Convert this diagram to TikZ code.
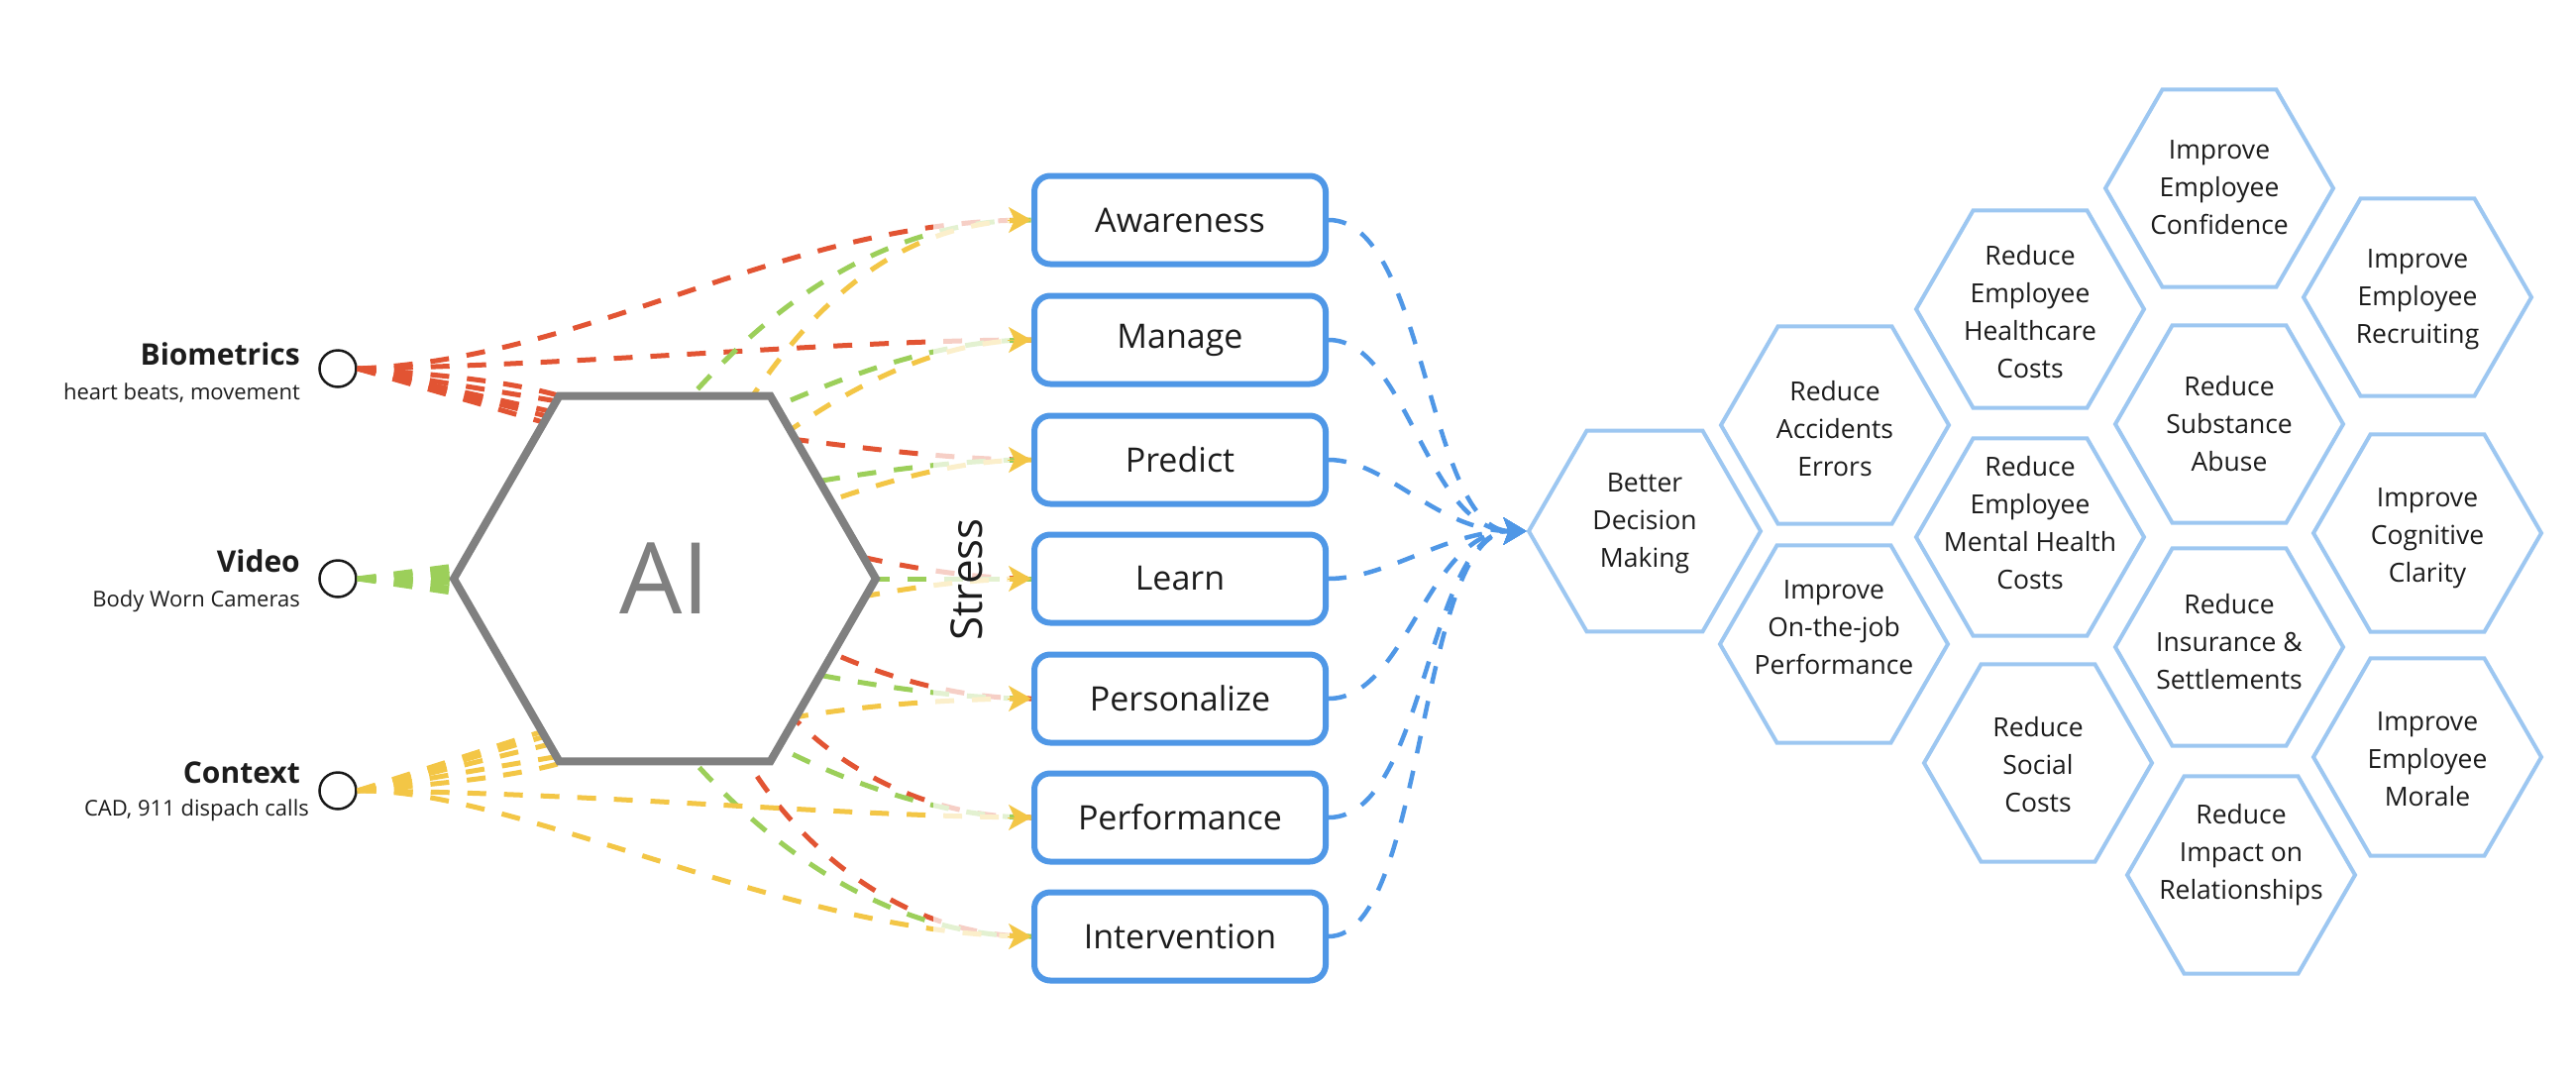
\documentclass[tikz,border=0pt]{standalone}
\usepackage{fontspec}
\setmainfont{Open Sans}
\usetikzlibrary{arrows.meta,shapes.geometric}
\definecolor{cred}{HTML}{E25433}
\definecolor{cgreen}{HTML}{9CCF5A}
\definecolor{cyellow}{HTML}{F3C646}
\definecolor{cblue}{HTML}{4F97E6}
\definecolor{clblue}{HTML}{9DC7F1}
\definecolor{cgray}{HTML}{808080}
\definecolor{ctext}{HTML}{1C1C1C}
\newcommand\fsBox{\fontsize{34}{40}\selectfont}
\newcommand\fsHex{\fontsize{26.5}{38}\selectfont}
\newcommand\fsSrc{\bfseries\fontsize{30}{36}\selectfont}
\newcommand\fsSub{\fontsize{22}{27}\selectfont}
\newcommand\fsAI{\fontsize{100}{110}\selectfont}
\newcommand\fsStress{\fontsize{44}{50}\selectfont}
\begin{document}
\begin{tikzpicture}[x=1pt,y=-1pt,
  src/.style={circle, draw=black!90, line width=2.5pt, minimum size=37pt, inner sep=0pt},
  srclab/.style={anchor=base east, inner sep=0pt, text=ctext, font=\fsSrc},
  sublab/.style={anchor=base east, inner sep=0pt, text=ctext, font=\fsSub},
  box/.style={draw=cblue, line width=6pt, rounded corners=16pt, minimum width=294pt, minimum height=89pt, fill=white, inner sep=0pt, text=ctext, font=\fsBox},
  aihex/.style={regular polygon, regular polygon sides=6, draw=cgray, line width=8pt, minimum size=426pt, inner sep=0pt, fill=white, text=cgray, font=\fsAI},
  hexa/.style={regular polygon, regular polygon sides=6, draw=clblue, line width=4pt, minimum size=230pt, inner sep=0pt, fill=white},
  hextxt/.style={align=center, inner sep=0pt, text=ctext, font=\fsHex},
  cl/.style={line width=5pt, dash pattern=on 19pt off 18pt},
  rl/.style={cl, draw=cred},
  gl/.style={cl, draw=cgreen},
  yl/.style={cl, draw=cyellow},
  ytip/.style={draw=cyellow, fill=cyellow, line width=0.5pt, -{Stealth[length=23pt,width=26pt,inset=6pt]}},
  bconn/.style={draw=cblue, line width=4.5pt, dash pattern=on 18pt off 18pt, -{Stealth[length=23pt,width=27pt,inset=5pt]}}
]
\useasboundingbox (0,0) rectangle (2600,1098);

% sources
\node[src] (bio) at (341,372) {};
\node[src] (vid) at (341,584) {};
\node[src] (ctx) at (341,798) {};
\node[srclab] (biot) at (303,368) {Biometrics};
\node[sublab] (bios) at (303,403) {heart beats, movement};
\node[srclab] (vidt) at (303,577) {Video};
\node[sublab] (vids) at (303,612) {Body Worn Cameras};
\node[srclab] (ctxt) at (303,790) {Context};
\node[sublab] (ctxs) at (312,823) {CAD, 911 dispach calls};

% target box positions
\path (1191,222) coordinate (awc) (1191,343) coordinate (manc) (1191,464) coordinate (predc)
      (1191,584) coordinate (learnc) (1191,705) coordinate (persc) (1191,825) coordinate (perfc)
      (1191,945) coordinate (intc);
\node[box, draw=none, fill=none] (aw) at (awc) {};
\node[box, draw=none, fill=none] (man) at (manc) {};
\node[box, draw=none, fill=none] (pred) at (predc) {};
\node[box, draw=none, fill=none] (learn) at (learnc) {};
\node[box, draw=none, fill=none] (pers) at (persc) {};
\node[box, draw=none, fill=none] (perf) at (perfc) {};
\node[box, draw=none, fill=none] (int) at (intc) {};

% red (biometrics)
\draw[rl] (bio.east) .. controls (600,362) and (790,222) .. (aw.west);
\draw[rl] (bio.east) .. controls (600,368) and (850,343) .. (man.west);
\draw[rl] (bio.east) .. controls (500,382) and (560,392) .. (620,420) -- (775,440) .. controls (870,452) and (960,464) .. (pred.west);
\draw[rl] (bio.east) -- (600,411) -- (840,555) .. controls (900,570) and (975,584) .. (learn.west);
\draw[rl] (bio.east) -- (600,425) -- (810,645) .. controls (880,680) and (960,705) .. (pers.west);
\draw[rl] (bio.east) -- (600,432) -- (780,700) .. controls (825,760) and (920,825) .. (perf.west);
\draw[rl] (bio.east) -- (600,441) -- (740,740) .. controls (770,810) and (880,945) .. (int.west);

% green (video)
\draw[gl] (vid.east) -- (490,567) -- (680,420) .. controls (740,350) and (860,222) .. (aw.west);
\draw[gl] (vid.east) -- (490,572) -- (760,420) .. controls (820,395) and (930,343) .. (man.west);
\draw[gl] (vid.east) -- (490,578) -- (800,490) .. controls (870,478) and (960,464) .. (pred.west);
\draw[gl] (vid.east) -- (learn.west);
\draw[gl] (vid.east) -- (490,590) -- (800,676) .. controls (870,690) and (960,705) .. (pers.west);
\draw[gl] (vid.east) -- (490,597) -- (760,740) .. controls (830,780) and (940,825) .. (perf.west);
\draw[gl] (vid.east) -- (490,603) -- (680,745) .. controls (730,805) and (860,945) .. (int.west);

% yellow (context)
\draw[yl] (ctx.east) -- (570,731) -- (745,420) .. controls (785,365) and (870,222) .. (aw.west);
\draw[yl] (ctx.east) -- (575,736) -- (775,450) .. controls (830,410) and (930,343) .. (man.west);
\draw[yl] (ctx.east) -- (580,745) -- (810,515) .. controls (880,490) and (960,464) .. (pred.west);
\draw[yl] (ctx.east) -- (600,757) -- (840,608) .. controls (900,596) and (970,584) .. (learn.west);
\draw[yl] (ctx.east) .. controls (480,788) and (560,780) .. (620,750) -- (780,728) .. controls (860,712) and (960,705) .. (pers.west);
\draw[yl] (ctx.east) .. controls (600,800) and (850,824) .. (perf.west);
\draw[yl] (ctx.east) .. controls (520,795) and (800,945) .. (int.west);

% AI hexagon
\node[aihex] (ai) at (671,584) {AI};

% fade near the arrow heads
\fill[white, opacity=0.72] (942,170) rectangle (1019,990);

% arrow heads
\foreach \b in {aw,man,pred,learn,pers,perf,int}{
  \draw[ytip] ([xshift=-24pt]\b.west) -- (\b.west);
}

% boxes
\node[box] (awb) at (awc) {Awareness};
\node[box] (manb) at (manc) {Manage};
\node[box] (predb) at (predc) {Predict};
\node[box] (learnb) at (learnc) {Learn};
\node[box] (persb) at (persc) {Personalize};
\node[box] (perfb) at (perfc) {Performance};
\node[box] (intb) at (intc) {Intervention};

\node[rotate=90, inner sep=0pt, text=ctext, font=\fsStress] (stress) at (976,585) {Stress};

% outcome hexagons
\node[hexa, minimum size=234pt] (bdm) at (1660,536) {};
\node[hexa] (acc) at (1852,429) {};
\node[hexa] (otj) at (1851,650) {};
\node[hexa] (hc) at (2049,312) {};
\node[hexa] (mh) at (2049,542) {};
\node[hexa] (soc) at (2057,770) {};
\node[hexa] (conf) at (2240,190) {};
\node[hexa] (sub) at (2250,428) {};
\node[hexa] (ins) at (2250,653) {};
\node[hexa] (imp) at (2262,883) {};
\node[hexa] (rec) at (2440,300) {};
\node[hexa] (cog) at (2450,538) {};
\node[hexa] (mor) at (2450,764) {};

\node[hextxt] (bdmt) at (1660,528) {Better\\Decision\\Making};
\node[hextxt] (acct) at (1852,433) {Reduce\\Accidents\\Errors};
\node[hextxt] (otjt) at (1851,633) {Improve\\On-the-job\\Performance};
\node[hextxt] (hct) at (2049,315) {Reduce\\Employee\\Healthcare\\Costs};
\node[hextxt] (mht) at (2049,528) {Reduce\\Employee\\Mental Health\\Costs};
\node[hextxt] (soct) at (2057,772) {Reduce\\Social\\Costs};
\node[hextxt] (conft) at (2240,189) {Improve\\Employee\\Confidence};
\node[hextxt] (subt) at (2250,428) {Reduce\\Substance\\Abuse};
\node[hextxt] (inst) at (2250,648) {Reduce\\Insurance \&\\Settlements};
\node[hextxt] (impt) at (2262,863) {Reduce\\Impact on\\Relationships};
\node[hextxt] (rect) at (2440,302) {Improve\\Employee\\Recruiting};
\node[hextxt] (cogt) at (2450,543) {Improve\\Cognitive\\Clarity};
\node[hextxt] (mort) at (2450,766) {Improve\\Employee\\Morale};

% blue connectors
\draw[bconn] (awb.east) .. controls (1440,222) and (1440,536) .. (bdm.west);
\draw[bconn] (manb.east) .. controls (1420,343) and (1440,536) .. (bdm.west);
\draw[bconn] (predb.east) .. controls (1400,464) and (1450,536) .. (bdm.west);
\draw[bconn] (learnb.east) .. controls (1400,584) and (1460,536) .. (bdm.west);
\draw[bconn] (persb.east) .. controls (1420,705) and (1440,536) .. (bdm.west);
\draw[bconn] (perfb.east) .. controls (1440,825) and (1440,536) .. (bdm.west);
\draw[bconn] (intb.east) .. controls (1440,945) and (1430,536) .. (bdm.west);
\end{tikzpicture}
\end{document}
